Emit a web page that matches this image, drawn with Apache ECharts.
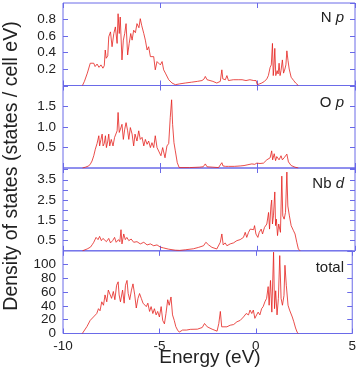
<!DOCTYPE html>
<html>
<head>
<meta charset="utf-8">
<script src="https://cdn.jsdelivr.net/npm/echarts@6/dist/echarts.min.js"></script>
<style>html,body{margin:0;padding:0;background:#fff}#c{width:359px;height:370px}</style>
</head>
<body>
<div id="c"></div>
<script>
// Energy (eV) / density-of-states pairs
const nP = [[-9.0,0],[-8.9,0.05],[-8.75,0.15],[-8.6,0.27],[-8.5,0.25],[-8.42,0.27],[-8.35,0.23],[-8.25,0.26],[-8.15,0.22],[-8.05,0.25],[-7.95,0.21],[-7.88,0.24],[-7.83,0.43],[-7.78,0.33],[-7.7,0.36],[-7.65,0.59],[-7.56,0.65],[-7.48,0.47],[-7.39,0.63],[-7.31,0.71],[-7.22,0.51],[-7.17,0.87],[-7.11,0.63],[-7.06,0.83],[-6.97,0.31],[-6.9,0.55],[-6.83,0.63],[-6.76,0.75],[-6.68,0.37],[-6.6,0.51],[-6.52,0.63],[-6.45,0.55],[-6.37,0.67],[-6.28,0.64],[-6.2,0.75],[-6.1,0.7],[-6.03,0.81],[-5.96,0.73],[-5.85,0.63],[-5.77,0.55],[-5.68,0.43],[-5.6,0.47],[-5.51,0.35],[-5.43,0.33],[-5.34,0.35],[-5.26,0.19],[-5.17,0.29],[-5.09,0.31],[-5.0,0.25],[-4.91,0.29],[-4.83,0.19],[-4.74,0.15],[-4.66,0.13],[-4.57,0.07],[-4.49,0.05],[-4.4,0.03],[-4.23,0.01],[-4.0,0.02],[-3.72,0.03],[-3.4,0.04],[-3.1,0.05],[-2.86,0.06],[-2.75,0.08],[-2.69,0.11],[-2.6,0.07],[-2.52,0.06],[-2.3,0.05],[-2.1,0.03],[-2.01,0.01],[-1.92,0.05],[-1.84,0.19],[-1.79,0.08],[-1.75,0.06],[-1.66,0.07],[-1.58,0.12],[-1.5,0.06],[-1.4,0.07],[-1.25,0.07],[-1.15,0.08],[-1.0,0.07],[-0.8,0.07],[-0.6,0.06],[-0.4,0.07],[-0.2,0.06],[-0.08,0.06],[-0.02,0.01],[0.1,0.02],[0.21,0.03],[0.35,0.05],[0.47,0.08],[0.55,0.12],[0.64,0.22],[0.7,0.25],[0.76,0.51],[0.8,0.12],[0.83,0.2],[0.88,0.45],[0.93,0.12],[1.0,0.18],[1.05,0.14],[1.1,0.27],[1.15,0.12],[1.2,0.18],[1.27,0.31],[1.33,0.15],[1.4,0.2],[1.45,0.25],[1.5,0.42],[1.56,0.3],[1.62,0.2],[1.72,0.1],[1.85,0.06],[1.95,0.03],[2.09,0]];

const oP = [[-9.0,0],[-8.85,0.02],[-8.68,0.05],[-8.59,0.1],[-8.51,0.17],[-8.42,0.3],[-8.34,0.46],[-8.25,0.6],[-8.16,0.79],[-8.12,0.54],[-8.05,0.7],[-7.99,0.83],[-7.94,0.54],[-7.88,0.6],[-7.82,0.79],[-7.77,0.5],[-7.7,0.66],[-7.65,0.83],[-7.6,0.54],[-7.52,0.7],[-7.48,0.71],[-7.43,0.54],[-7.35,0.75],[-7.31,0.79],[-7.22,0.91],[-7.17,1.36],[-7.11,0.87],[-7.05,0.95],[-6.97,1.07],[-6.9,0.7],[-6.83,0.95],[-6.76,1.11],[-6.68,0.91],[-6.62,0.7],[-6.54,0.99],[-6.45,0.83],[-6.37,0.54],[-6.3,0.83],[-6.2,0.66],[-6.11,0.91],[-6.03,0.7],[-5.94,0.75],[-5.85,0.54],[-5.77,0.7],[-5.68,0.58],[-5.6,0.66],[-5.51,0.5],[-5.43,0.62],[-5.34,0.5],[-5.26,0.79],[-5.17,0.5],[-5.09,0.46],[-4.97,0.3],[-4.88,0.5],[-4.76,0.25],[-4.66,0.54],[-4.57,0.6],[-4.49,1.24],[-4.42,1.67],[-4.37,1.07],[-4.3,0.62],[-4.23,0.42],[-4.13,0.13],[-4.03,0.01],[-3.5,0.01],[-3.0,0.02],[-2.8,0.03],[-2.69,0.1],[-2.6,0.03],[-2.3,0.02],[-2.01,0.01],[-1.92,0.03],[-1.84,0.13],[-1.78,0.05],[-1.72,0.08],[-1.65,0.04],[-1.5,0.04],[-1.2,0.04],[-0.9,0.05],[-0.7,0.06],[-0.5,0.08],[-0.3,0.1],[-0.15,0.09],[-0.04,0.12],[0.04,0.08],[0.12,0.11],[0.21,0.13],[0.3,0.12],[0.38,0.15],[0.47,0.2],[0.55,0.17],[0.64,0.25],[0.72,0.42],[0.77,0.2],[0.85,0.35],[0.92,0.18],[0.98,0.28],[1.03,0.3],[1.1,0.2],[1.2,0.3],[1.27,0.2],[1.36,0.25],[1.44,0.24],[1.5,0.34],[1.58,0.15],[1.72,0.06],[1.92,0.02],[2.09,0]];

const nbD = [[-9.0,0],[-8.76,0.09],[-8.59,0.18],[-8.5,0.3],[-8.42,0.42],[-8.3,0.66],[-8.2,0.55],[-8.12,0.71],[-8.03,0.5],[-7.95,0.61],[-7.85,0.66],[-7.77,0.45],[-7.65,0.61],[-7.56,0.39],[-7.45,0.5],[-7.35,0.66],[-7.27,0.42],[-7.15,0.55],[-7.08,0.45],[-7.02,1.04],[-6.97,0.34],[-6.88,0.83],[-6.8,0.55],[-6.72,0.66],[-6.62,0.5],[-6.5,0.58],[-6.37,0.42],[-6.2,0.45],[-6.03,0.34],[-5.85,0.42],[-5.68,0.29],[-5.51,0.34],[-5.34,0.25],[-5.17,0.29],[-5.0,0.18],[-4.83,0.14],[-4.57,0.08],[-4.23,0.03],[-4.0,0.02],[-3.72,0.05],[-3.3,0.1],[-3.03,0.17],[-2.78,0.25],[-2.66,0.42],[-2.52,0.29],[-2.35,0.17],[-2.1,0.09],[-2.01,0.06],[-1.92,0.42],[-1.84,0.83],[-1.77,0.29],[-1.67,0.39],[-1.58,0.25],[-1.41,0.34],[-1.24,0.39],[-1.07,0.5],[-0.9,0.55],[-0.73,0.66],[-0.64,0.91],[-0.56,0.66],[-0.47,0.91],[-0.38,1.07],[-0.3,1.15],[-0.21,1.04],[-0.16,1.24],[-0.09,0.83],[0.01,0.66],[0.08,0.91],[0.18,1.07],[0.25,0.83],[0.35,1.15],[0.47,1.32],[0.56,1.89],[0.61,1.07],[0.68,2.2],[0.72,2.5],[0.76,1.32],[0.81,1.72],[0.88,2.9],[0.92,1.24],[0.96,1.56],[1.02,0.75],[1.08,1.32],[1.17,0.91],[1.24,3.68],[1.29,1.72],[1.36,1.56],[1.43,1.89],[1.5,3.88],[1.55,2.21],[1.63,1.72],[1.72,1.24],[1.84,0.99],[1.92,0.83],[2.01,0.42],[2.09,0.09],[2.18,0]];

const total = [[-9.0,0],[-8.76,10],[-8.59,19],[-8.42,24],[-8.25,29],[-8.16,36],[-8.08,33],[-7.99,46],[-7.9,41],[-7.82,56],[-7.73,46],[-7.65,63],[-7.56,61],[-7.48,51],[-7.39,61],[-7.31,49],[-7.22,70],[-7.14,75],[-7.09,56],[-7.02,46],[-6.91,63],[-6.83,44],[-6.76,70],[-6.68,77],[-6.62,58],[-6.54,49],[-6.45,63],[-6.37,72],[-6.28,56],[-6.2,37],[-6.11,51],[-6.03,58],[-5.94,51],[-5.85,44],[-5.77,46],[-5.68,39],[-5.6,44],[-5.51,32],[-5.43,39],[-5.34,29],[-5.26,36],[-5.17,27],[-5.09,32],[-5.0,24],[-4.91,39],[-4.83,19],[-4.74,14],[-4.66,29],[-4.57,49],[-4.49,41],[-4.4,53],[-4.32,27],[-4.23,19],[-4.15,10],[-4.06,5],[-3.97,2],[-3.8,5],[-3.6,5],[-3.4,6],[-3.03,6.3],[-2.78,8.7],[-2.66,14.5],[-2.52,9.7],[-2.27,6.3],[-2.01,3.4],[-1.92,14.5],[-1.84,32],[-1.77,9.7],[-1.67,12],[-1.5,9.7],[-1.33,12],[-1.15,13],[-0.98,17],[-0.81,19],[-0.64,24],[-0.5,29],[-0.38,27],[-0.3,34],[-0.21,29],[-0.13,34],[-0.05,22],[0.04,27],[0.12,31],[0.21,27],[0.3,36],[0.38,39],[0.47,46],[0.56,51],[0.64,68],[0.69,41],[0.76,77],[0.83,31],[0.92,118],[0.97,36],[1.03,62],[1.1,27],[1.17,51],[1.24,113],[1.31,51],[1.38,41],[1.46,55],[1.51,99],[1.58,70],[1.67,41],[1.75,34],[1.89,24],[1.97,17],[2.06,8],[2.14,2],[2.2,0]];

const xTicks = [-10, -5, 0, 5];
const panelNames = [['N ', 'p'], ['O ', 'p'], ['Nb ', 'd'], ['total', '']];
const yMax = [1.0, 2.02, 4.08, 120];
const yStep = [0.2, 0.5, 0.5, 20];
const seriesData = [nP, oP, nbD, total];

const FONT = 'Liberation Sans, Arial, Helvetica, sans-serif';
const BLUE = '#6a6ae8';
const RED = '#e4211d';
const tops = [3, 85.5, 168, 250.8];
const heights = [82.5, 82.5, 82.8, 82.7];

const labelFmt = [
  v => (v > 0.05 && v < 0.95) ? v.toFixed(1) : '',
  v => (v > 0.1 && v < 1.9) ? v.toFixed(1) : '',
  v => (Math.abs(v * 2 - Math.round(v * 2)) < 1e-6 && Math.round(v * 2) % 2 === 1 && v < 4) ? v.toFixed(1) : '',
  v => (v > 0 && v <= 100) ? String(Math.round(v)) : ''
];
const labelStyle = {color: '#222', fontSize: 13.5, fontFamily: FONT, margin: 7};

const grid = [], xAxis = [], yAxis = [], series = [];
for (let i = 0; i < 4; i++) {
  grid.push({left: 63, right: 4, top: tops[i], height: heights[i], show: true,
    borderColor: BLUE, borderWidth: 1, backgroundColor: 'transparent'});
  const xBase = {gridIndex: i, type: 'value', min: xTicks[0], max: xTicks[xTicks.length - 1], interval: 5,
    axisLine: {show: false, onZero: false}, splitLine: {show: false},
    axisTick: {show: true, inside: true, length: 5, lineStyle: {color: BLUE, width: 1}}};
  xAxis.push(Object.assign({}, xBase, {position: 'bottom',
    axisLabel: Object.assign({show: i === 3, margin: 6, showMinLabel: true, showMaxLabel: true}, labelStyle, {margin: 6})}));
  xAxis.push(Object.assign({}, xBase, {position: 'top', axisLabel: {show: false}}));
  const yBase = {gridIndex: i, type: 'value', min: 0, max: yMax[i], interval: yStep[i],
    axisLine: {show: false, onZero: false}, splitLine: {show: false},
    axisTick: {show: true, inside: true, length: 5, lineStyle: {color: BLUE, width: 1}}};
  yAxis.push(Object.assign({}, yBase, {position: 'left',
    axisLabel: Object.assign({show: true, formatter: labelFmt[i], showMinLabel: false, showMaxLabel: false}, labelStyle)}));
  yAxis.push(Object.assign({}, yBase, {position: 'right', axisLabel: {show: false}}));
  series.push({type: 'line', xAxisIndex: 2 * i, yAxisIndex: 2 * i, data: seriesData[i],
    showSymbol: false, symbol: 'none', lineStyle: {color: RED, width: 0.8}, silent: true, animation: false});
}
// separate axis carrying only the "0" label of the total panel
yAxis.push({gridIndex: 3, type: 'value', min: 0, max: yMax[3], interval: yStep[3], position: 'left',
  axisLine: {show: false, onZero: false}, splitLine: {show: false}, axisTick: {show: false},
  axisLabel: Object.assign({show: true, showMinLabel: true, showMaxLabel: false,
    formatter: v => (v === 0 ? '0' : '')}, labelStyle)});

const labelY = [18, 103, 184, 268];
const graphic = [];
for (let i = 0; i < 4; i++) {
  graphic.push({type: 'text', x: 344, y: labelY[i], silent: true,
    style: {text: '{a|' + panelNames[i][0] + '}' + (panelNames[i][1] ? '{b|' + panelNames[i][1] + '}' : ''),
      align: 'right', verticalAlign: 'middle',
      rich: {a: {fontSize: 15, fontFamily: FONT, fill: '#222'},
             b: {fontSize: 15, fontFamily: FONT, fontStyle: 'italic', fill: '#222'}}}});
}
graphic.push({type: 'text', x: 210, y: 358, silent: true,
  style: {text: 'Energy (eV)', align: 'center', verticalAlign: 'middle', fontSize: 19, fontFamily: FONT, fill: '#222'}});
graphic.push({type: 'text', x: 12, y: 166, rotation: Math.PI / 2, silent: true,
  style: {text: 'Density of states (states / cell eV)', align: 'center', verticalAlign: 'middle', fontSize: 19.5, fontFamily: FONT, fill: '#222'}});

const chart = echarts.init(document.getElementById('c'), null, {renderer: 'canvas'});
chart.setOption({animation: false, grid, xAxis, yAxis, series, graphic});
</script>
</body>
</html>
